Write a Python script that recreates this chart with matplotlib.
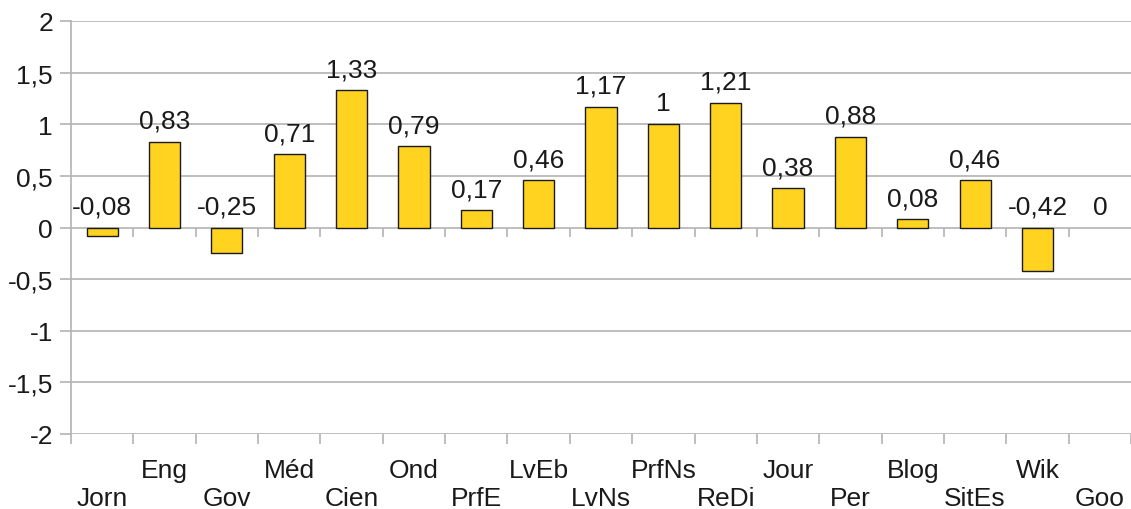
import numpy as np
import matplotlib.pyplot as plt

plt.rcParams['font.family'] = ['Liberation Sans', 'DejaVu Sans']

# categories and values
cats = ['Jorn', 'Eng', 'Gov', 'Méd', 'Cien', 'Ond', 'PrfE', 'LvEb', 'LvNs',
        'PrfNs', 'ReDi', 'Jour', 'Per', 'Blog', 'SitEs', 'Wik', 'Goo']
vals = [-0.08, 0.83, -0.25, 0.71, 1.33, 0.79, 0.17, 0.46, 1.17,
        1, 1.21, 0.38, 0.88, 0.08, 0.46, -0.42, 0]
yticks = [-2, -1.5, -1, -0.5, 0, 0.5, 1, 1.5, 2]

def fmt(v):
    s = ('%.2f' % v).rstrip('0').rstrip('.')
    return s.replace('.', ',')

fig = plt.figure(figsize=(11.31, 5.10), dpi=100)
ax = fig.add_axes([71 / 1131, 75 / 510, 1 - 71 / 1131, (435 - 22) / 510])

x = np.arange(len(cats))
edges = ['#1a1a1a' if v != 0 else 'none' for v in vals]
ax.bar(x, vals, width=0.5, color='#FFD320', edgecolor=edges, linewidth=1, zorder=3)

ax.set_xlim(-0.5, len(cats) - 0.5)
ax.set_ylim(-2, 2)
ax.set_yticks(yticks)
ax.set_yticklabels([fmt(t) for t in yticks])
ax.yaxis.grid(True, color='#b3b3b3', linewidth=1.2, zorder=0)
ax.tick_params(axis='y', length=8, color='#b3b3b3', width=1.2, labelsize=19, pad=5,
               labelcolor='#1a1a1a')

for s in ['top', 'right', 'bottom']:
    ax.spines[s].set_visible(False)
ax.spines['left'].set_color('#b3b3b3')
ax.spines['left'].set_linewidth(1.2)

# category boundaries as ticks, names staggered on two rows
ax.set_xticks(np.arange(-0.5, len(cats)))
ax.set_xticklabels([])
ax.tick_params(axis='x', which='major', length=7, color='#b3b3b3', width=1.2)
ax.set_xticks(x, minor=True)
ax.set_xticklabels([c if i % 2 else '\n' + c for i, c in enumerate(cats)],
                   minor=True, fontsize=19, color='#1a1a1a', va='top', linespacing=1.22)
ax.tick_params(axis='x', which='minor', length=0, pad=17)

# ticks hanging from the zero line
ax.vlines(np.arange(0.5, len(cats) - 1), 0, -0.095, color='#b3b3b3', linewidth=1.2, zorder=2)

for xi, v in zip(x, vals):
    ax.annotate(fmt(v), (xi, max(v, 0)), xytext=(0, 10), textcoords='offset points',
                ha='center', va='baseline', fontsize=19, color='#1a1a1a')

fig.savefig('out.png', dpi=100)
